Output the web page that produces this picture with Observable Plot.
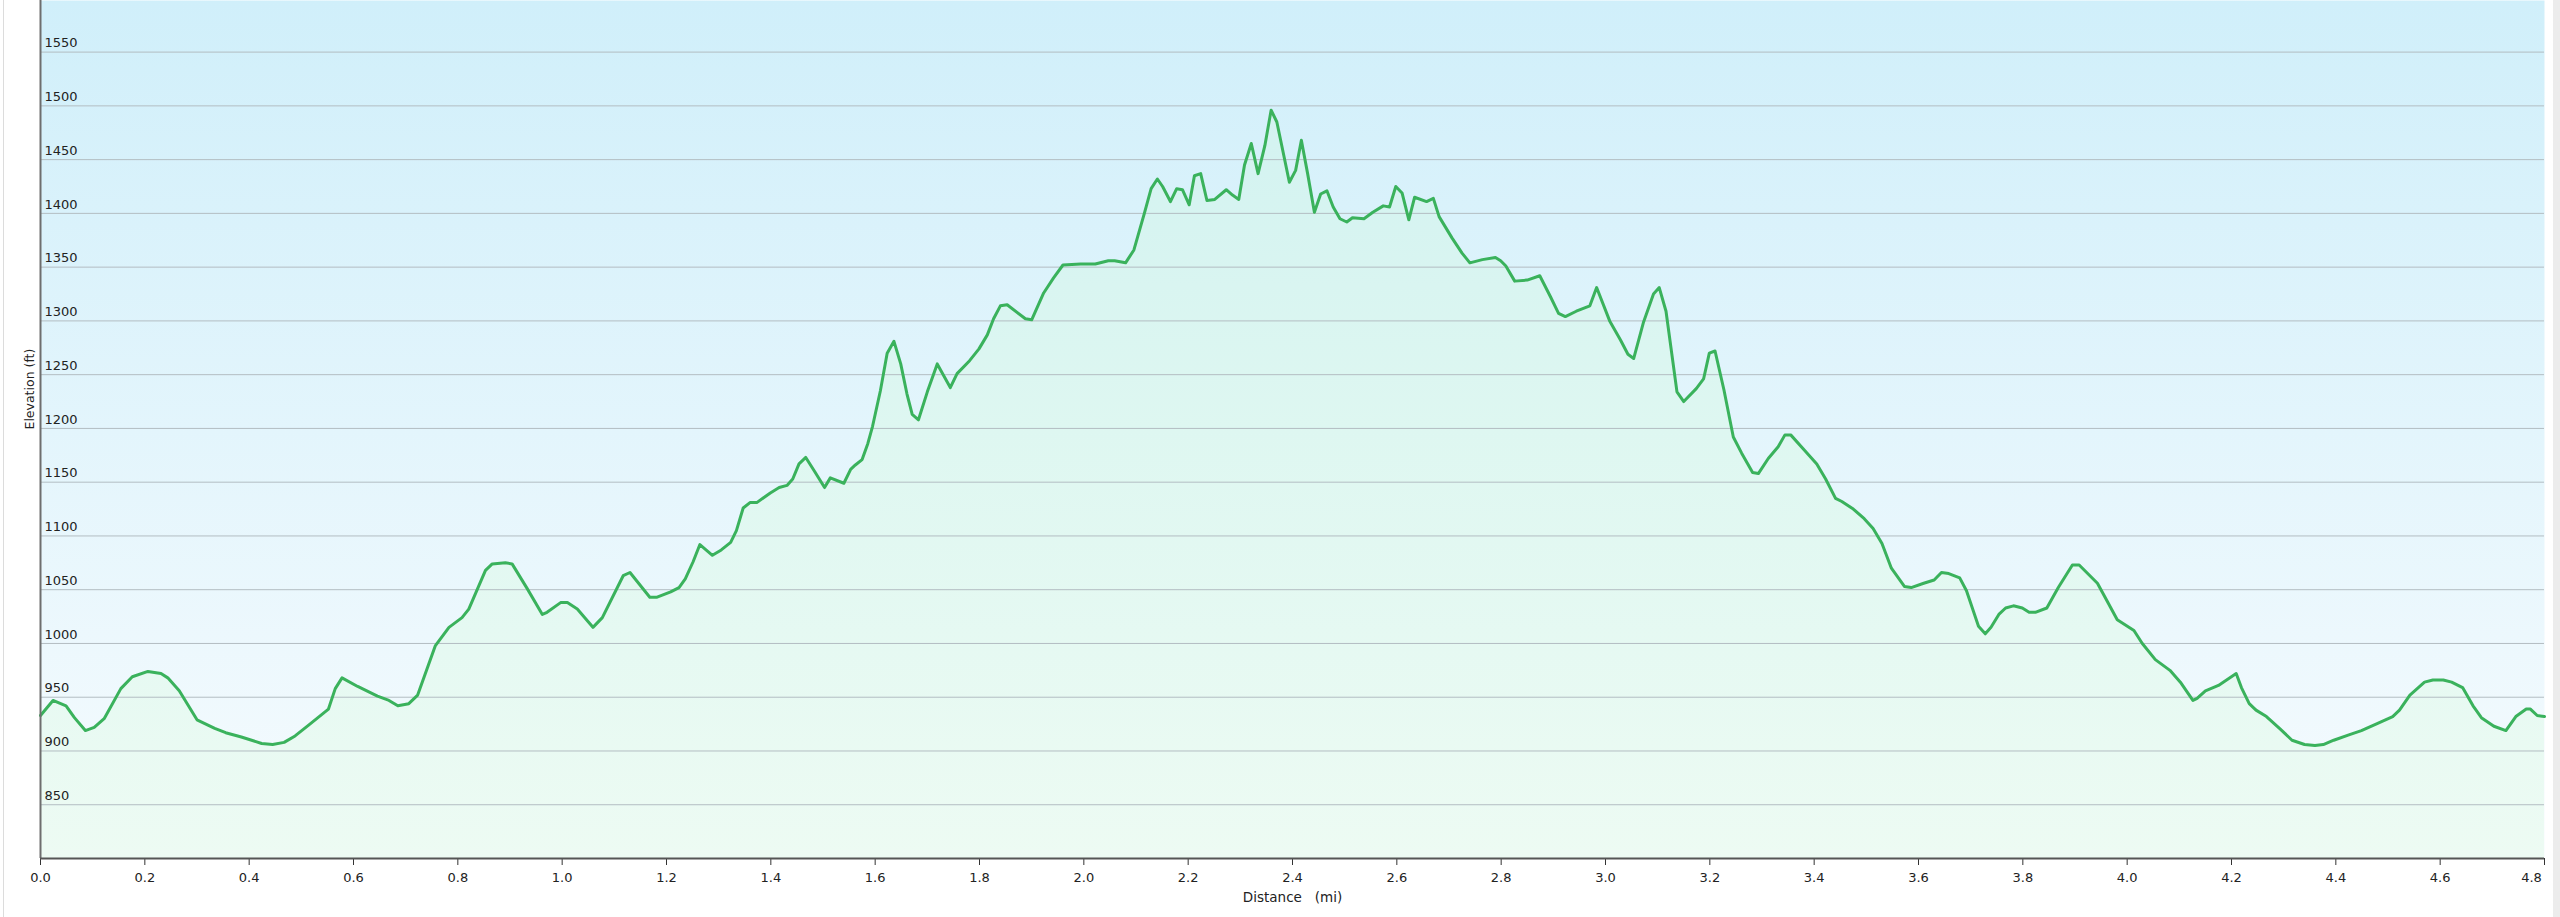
<!DOCTYPE html>
<html><head><meta charset="utf-8">
<script src="https://cdn.jsdelivr.net/npm/d3@7"></script>
<script src="https://cdn.jsdelivr.net/npm/@observablehq/plot@0.6"></script>
<style>
html,body{margin:0;padding:0;background:#fff;overflow:hidden;}
#chart{position:relative;width:2560px;height:917px;}
#chart svg{display:block;}
.edgeL{position:absolute;left:3px;top:0;width:1px;height:917px;background:#dcdcdc;}
.edgeR{position:absolute;left:2553px;top:0;width:7px;height:917px;background:#ececec;}
</style></head><body>
<div id="chart"><div class="edgeL"></div><div class="edgeR"></div></div>
<script>
// Distance along trail (mi)
const distance = [0.000,0.024,0.049,0.065,0.086,0.103,0.122,0.154,0.176,0.206,0.231,0.244,0.266,0.300,0.334,0.355,0.385,0.424,0.445,0.467,0.488,0.514,0.552,0.565,0.578,0.608,0.646,0.668,0.685,0.706,0.723,0.757,0.783,0.808,0.821,0.853,0.866,0.891,0.904,0.933,0.962,0.971,0.997,1.010,1.029,1.059,1.077,1.117,1.130,1.168,1.182,1.208,1.224,1.236,1.251,1.264,1.288,1.305,1.323,1.334,1.347,1.360,1.373,1.399,1.416,1.431,1.442,1.454,1.467,1.484,1.503,1.514,1.540,1.553,1.562,1.575,1.586,1.595,1.610,1.623,1.636,1.649,1.661,1.671,1.683,1.700,1.719,1.744,1.757,1.781,1.799,1.815,1.827,1.840,1.853,1.888,1.900,1.923,1.942,1.960,1.994,2.022,2.047,2.059,2.080,2.096,2.116,2.129,2.141,2.151,2.166,2.178,2.189,2.202,2.212,2.224,2.236,2.251,2.273,2.285,2.297,2.308,2.321,2.334,2.347,2.359,2.370,2.394,2.406,2.417,2.429,2.442,2.454,2.466,2.478,2.491,2.504,2.515,2.537,2.554,2.574,2.586,2.598,2.610,2.623,2.634,2.657,2.670,2.681,2.706,2.725,2.740,2.764,2.789,2.799,2.809,2.826,2.850,2.874,2.895,2.910,2.923,2.944,2.970,2.983,3.008,3.029,3.043,3.054,3.073,3.092,3.103,3.116,3.137,3.150,3.174,3.188,3.199,3.210,3.227,3.245,3.261,3.282,3.293,3.312,3.331,3.344,3.355,3.381,3.405,3.422,3.441,3.453,3.475,3.496,3.513,3.530,3.548,3.573,3.586,3.610,3.630,3.644,3.658,3.679,3.692,3.715,3.728,3.739,3.754,3.767,3.782,3.799,3.812,3.824,3.846,3.868,3.895,3.908,3.943,3.961,3.981,4.013,4.029,4.054,4.082,4.102,4.126,4.134,4.150,4.175,4.209,4.219,4.234,4.247,4.267,4.292,4.316,4.340,4.360,4.376,4.396,4.425,4.449,4.477,4.509,4.522,4.542,4.570,4.586,4.606,4.622,4.643,4.663,4.679,4.703,4.726,4.745,4.765,4.773,4.786,4.800];
// Elevation (ft)
const elevation = [933,947,942,931,919,922,930,958,969,974,972,968,956,929,921,917,913,907,906,908,914,924,939,958,968,960,951,947,942,944,952,998,1015,1024,1032,1068,1074,1075,1074,1051,1027,1029,1038,1038,1032,1015,1024,1063,1066,1043,1043,1048,1052,1060,1076,1092,1082,1087,1094,1105,1126,1131,1131,1140,1145,1147,1153,1167,1173,1160,1145,1154,1149,1162,1166,1171,1186,1202,1235,1270,1281,1260,1232,1213,1208,1234,1260,1238,1251,1263,1274,1287,1302,1314,1315,1302,1301,1326,1340,1352,1353,1353,1356,1356,1354,1366,1400,1423,1432,1425,1411,1423,1422,1408,1435,1437,1412,1413,1422,1417,1413,1445,1465,1437,1463,1496,1485,1429,1440,1468,1437,1401,1418,1421,1406,1395,1392,1396,1395,1401,1407,1406,1425,1419,1394,1415,1411,1414,1397,1377,1363,1354,1357,1359,1356,1351,1337,1338,1342,1322,1307,1304,1309,1314,1331,1300,1282,1269,1265,1299,1325,1331,1309,1234,1225,1237,1246,1270,1272,1236,1192,1177,1159,1158,1172,1183,1194,1194,1180,1167,1153,1135,1132,1125,1116,1107,1093,1070,1053,1052,1056,1059,1066,1065,1061,1049,1016,1009,1015,1027,1033,1035,1033,1029,1029,1033,1052,1073,1073,1056,1040,1022,1012,1000,985,975,964,947,949,956,961,972,959,944,938,932,921,910,906,905,906,910,915,919,925,932,938,952,964,966,966,964,959,942,931,923,919,932,939,939,933,932];
// Axis ticks
const yTicks = [850,900,950,1000,1050,1100,1150,1200,1250,1300,1350,1400,1450,1500,1550];
const xTicks = [0,0.2,0.4,0.6,0.8,1.0,1.2,1.4,1.6,1.8,2.0,2.2,2.4,2.6,2.8,3.0,3.2,3.4,3.6,3.8,4.0,4.2,4.4,4.6,4.8];
const xLabel = "Distance\u00a0\u00a0\u00a0(mi)";
const yLabel = "Elevation (ft)";

const profile = distance.map((d, i) => ({d, e: elevation[i]}));
const fontFamily = "'DejaVu Sans', Verdana, sans-serif";
const lastTick = xTicks[xTicks.length - 1];
const fmt = d3.format(".1f");

const defs = () => {
  const ns = "http://www.w3.org/2000/svg";
  const g = document.createElementNS(ns, "defs");
  g.innerHTML = `
    <linearGradient id="bgGrad" gradientUnits="userSpaceOnUse" x1="0" y1="0" x2="0" y2="858">
      <stop offset="0" stop-color="#d0effa"/>
      <stop offset="0.5" stop-color="#e3f5fc"/>
      <stop offset="1" stop-color="#f6fbfe"/>
    </linearGradient>
    <linearGradient id="areaGrad" gradientUnits="userSpaceOnUse" x1="0" y1="0" x2="0" y2="858">
      <stop offset="0" stop-color="#cff1f1"/>
      <stop offset="0.5" stop-color="#def7f1"/>
      <stop offset="1" stop-color="#edfbf3"/>
    </linearGradient>`;
  return g;
};

const chart = Plot.plot({
  width: 2560,
  height: 917,
  marginLeft: 40,
  marginRight: 16,
  marginTop: 0,
  marginBottom: 59,
  style: {fontFamily, fontSize: "13px", color: "#222", background: "transparent"},
  x: {domain: [0, 4.8]},
  y: {domain: [800, 1598]},
  marks: [
    defs,
    Plot.frame({fill: "url(#bgGrad)", stroke: "none"}),
    Plot.areaY(profile, {x: "d", y1: 800, y2: "e", fill: "url(#areaGrad)"}),
    Plot.ruleY(yTicks, {stroke: "#b3bdc2", strokeWidth: 1}),
    Plot.lineY(profile, {x: "d", y: "e", stroke: "#3ab25c", strokeWidth: 3}),
    Plot.axisY(yTicks, {anchor: "left", tickSize: 0, textAnchor: "start", dx: 13, dy: -9, fontSize: 13, label: null, fill: "#222", tickFormat: d => String(d)}),
    Plot.axisX(xTicks, {anchor: "bottom", tickSize: 7, tickPadding: 7, tickFormat: d => d === lastTick ? "" : fmt(d), label: null, stroke: "#333", fill: "#222", fontSize: 13}),
    Plot.axisX([lastTick], {anchor: "bottom", tickSize: 0, tickPadding: 14, dx: -13, tickFormat: fmt, label: null, fill: "#222", fontSize: 13}),
    Plot.ruleX([0], {stroke: "#6e6e6e", strokeWidth: 2}),
    Plot.ruleY([800], {stroke: "#555", strokeWidth: 2}),
    Plot.text([xLabel], {text: d => d, frameAnchor: "bottom", dy: 43, fontSize: 13.5, fill: "#222"}),
    Plot.text([yLabel], {text: d => d, frameAnchor: "left", rotate: -90, dx: -11, fontSize: 12.5, fill: "#222"})
  ]
});
document.getElementById("chart").appendChild(chart);
</script>
</body></html>
